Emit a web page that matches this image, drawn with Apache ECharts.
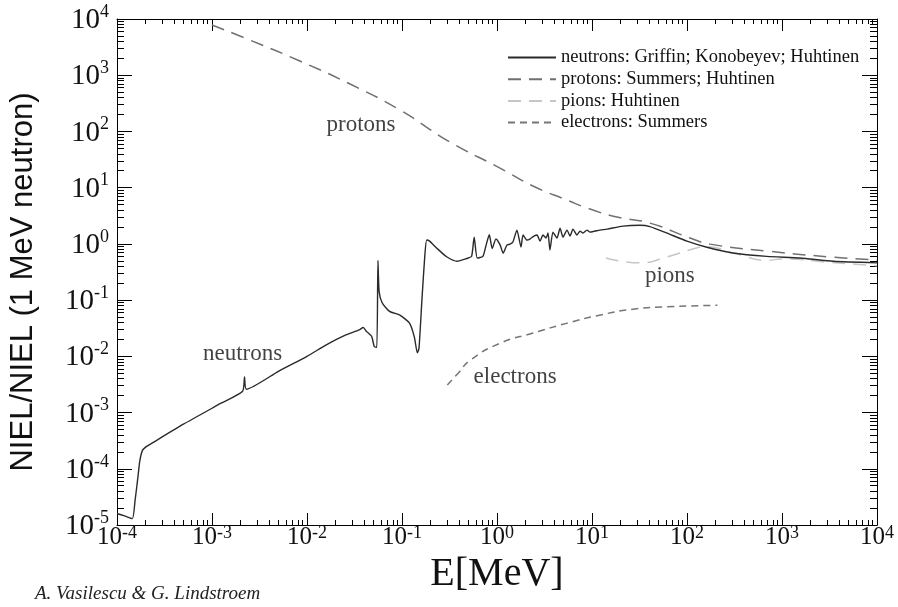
<!DOCTYPE html>
<html>
<head>
<meta charset="utf-8">
<script src="https://cdn.jsdelivr.net/npm/echarts@6/dist/echarts.min.js"></script>
<style>
  html, body { margin: 0; padding: 0; background: #ffffff; }
  #chart { width: 898px; height: 607px; }
</style>
</head>
<body>
<div id="chart"></div>
<script>
// Decade exponents used for the major tick labels (10^n)
const xTickExponents = [-4, -3, -2, -1, 0, 1, 2, 3, 4];
const yTickExponents = [-5, -4, -3, -2, -1, 0, 1, 2, 3, 4];

// Neutrons: Griffin; Konobeyev; Huhtinen  (E in MeV, NIEL relative to 1 MeV neutron)
const neutronE = [
  1.0e-4, 1.2e-4, 1.45e-4, 1.55e-4, 1.66e-4, 1.74e-4, 1.86e-4, 2.05e-4, 2.25e-4,
  5.0e-4, 1.26e-3, 2.1e-3, 2.2e-3, 2.3e-3, 5.0e-3, 1.0e-2, 1.58e-2, 2.5e-2,
  3.55e-2, 3.9e-2, 4.25e-2, 4.8e-2, 5.1e-2, 5.43e-2, 5.58e-2, 5.75e-2, 6.2e-2,
  7.4e-2, 9.5e-2, 0.12, 0.135, 0.145, 0.151, 0.162, 0.174, 0.182, 0.195, 0.234,
  0.295, 0.38, 0.48, 0.54, 0.575, 0.62, 0.71, 0.76, 0.83, 0.89, 0.975, 1.08,
  1.16, 1.27, 1.37, 1.47, 1.62, 1.79, 1.88, 2.07, 2.22, 2.45, 2.64, 2.84, 3.05,
  3.28, 3.44, 3.61, 3.88, 4.28, 4.61, 4.95, 5.46, 5.87, 6.31, 6.95, 7.48, 8.04,
  8.86, 9.53, 12.1, 14.4, 21.2, 32.0, 40.7, 61.7, 100, 162, 302, 692, 1550, 3470, 10000
];
const neutronNiel = [
  1.6e-5, 1.45e-5, 1.3e-5, 2.75e-5, 7.1e-5, 1.4e-4, 2.15e-4, 2.5e-4, 2.75e-4,
  6.2e-4, 1.48e-3, 2.4e-3, 4.3e-3, 2.6e-3, 5.4e-3, 1.0e-2, 1.58e-2, 2.35e-2,
  2.95e-2, 3.25e-2, 2.75e-2, 2.25e-2, 1.5e-2, 1.45e-2, 0.51, 0.14, 0.089,
  0.063, 0.054, 0.039, 0.022, 0.0115, 0.014, 0.10, 0.63, 1.17, 1.12, 0.83,
  0.59, 0.49, 0.55, 0.60, 1.32, 0.56, 0.60, 0.89, 1.45, 0.83, 1.22, 0.95,
  0.685, 0.95, 0.99, 1.08, 1.76, 0.88, 1.44, 1.17, 1.22, 1.38, 1.44, 1.12, 1.44,
  1.27, 1.56, 0.78, 1.62, 1.27, 1.91, 1.32, 1.76, 1.38, 1.83, 1.44, 1.69, 1.56,
  1.76, 1.62, 1.76, 1.83, 2.07, 2.14, 2.03, 1.55, 1.12, 0.87, 0.69, 0.60, 0.56, 0.49, 0.46
];

// Protons: Summers; Huhtinen
const protonE = [1.0e-3, 2.5e-3, 8.4e-3, 0.0284, 0.0953, 0.32, 1.076, 2.39, 5.46, 9.53, 18.3, 40.8, 108, 175, 695, 3440, 10000];
const protonNiel = [7800, 4230, 1790, 697, 240, 64.8, 22.3, 10.7, 6.0, 4.16, 3.0, 2.34, 1.27, 0.99, 0.745, 0.58, 0.515];

// Pions: Huhtinen
const pionE = [14, 32, 62, 115, 160, 316, 690, 1000, 3160, 10000];
const pionNiel = [0.56, 0.46, 0.59, 0.81, 0.89, 0.68, 0.51, 0.54, 0.47, 0.41];

// Electrons: Summers
const electronE = [0.30, 0.39, 0.52, 1.07, 2.4, 5.5, 12, 27, 62, 209];
const electronNiel = [3.1e-3, 5.0e-3, 8.5e-3, 0.017, 0.026, 0.039, 0.054, 0.069, 0.076, 0.081];

// In-plot curve captions: [E, NIEL, text]
const curveCaptions = [
  [0.037, 129, 'protons'],
  [2.1e-3, 0.011, 'neutrons'],
  [1.55, 4.3e-3, 'electrons'],
  [66, 0.27, 'pions']
];

const seriesNames = [
  'neutrons: Griffin; Konobeyev; Huhtinen',
  'protons: Summers; Huhtinen',
  'pions: Huhtinen',
  'electrons: Summers'
];

const SERIF = 'Liberation Serif';
const SANS = 'Liberation Sans';

const pairs = (xs, ys) => xs.map((x, i) => [x, ys[i]]);
const decades = exps => exps.map(e => Math.pow(10, e));
function minorValues(exps) {
  const out = [];
  for (let i = 0; i < exps.length - 1; i++) {
    for (let k = 2; k <= 9; k++) out.push(k * Math.pow(10, exps[i]));
  }
  return out;
}
function powLabel(v) {
  const e = Math.round(Math.log10(v));
  return '{b|10}{s|' + e + '}';
}
const xLabelRich = {
  b: { fontFamily: SERIF, fontSize: 25, color: '#111', lineHeight: 26, verticalAlign: 'bottom' },
  s: { fontFamily: SERIF, fontSize: 18, color: '#111', lineHeight: 18, verticalAlign: 'top' }
};
const yLabelRich = {
  b: { fontFamily: SERIF, fontSize: 29, color: '#111', lineHeight: 32, verticalAlign: 'bottom' },
  s: { fontFamily: SERIF, fontSize: 18, color: '#111', lineHeight: 18, verticalAlign: 'top' }
};

const xMajor = decades(xTickExponents);
const yMajor = decades(yTickExponents);
const xMinor = minorValues(xTickExponents);
const yMinor = minorValues(yTickExponents);
const xRange = { min: xMajor[0], max: xMajor[xMajor.length - 1] };
const yRange = { min: yMajor[0], max: yMajor[yMajor.length - 1] };

function xAxisDef(position, ticks, len, withLine, withLabels) {
  return {
    type: 'log', logBase: 10, position: position, min: xRange.min, max: xRange.max,
    axisLine: { show: withLine, onZero: false, lineStyle: { color: '#000', width: 1 } },
    axisTick: { show: true, inside: true, length: len, customValues: ticks, lineStyle: { color: '#000', width: 1 } },
    axisLabel: withLabels ? { show: true, customValues: xMajor, formatter: powLabel, rich: xLabelRich, margin: -1 } : { show: false },
    splitLine: { show: false },
    minorTick: { show: false }
  };
}
function yAxisDef(position, ticks, len, withLine, withLabels) {
  return {
    type: 'log', logBase: 10, position: position, min: yRange.min, max: yRange.max,
    axisLine: { show: withLine, onZero: false, lineStyle: { color: '#000', width: 1 } },
    axisTick: { show: true, inside: true, length: len, customValues: ticks, lineStyle: { color: '#000', width: 1 } },
    axisLabel: withLabels ? { show: true, customValues: yMajor, formatter: powLabel, rich: yLabelRich, margin: 8 } : { show: false },
    splitLine: { show: false },
    minorTick: { show: false }
  };
}

const xAxes = [
  Object.assign(xAxisDef('bottom', xMajor, 12, true, true), {
    name: 'E[MeV]', nameLocation: 'middle', nameGap: 17,
    nameTextStyle: { fontFamily: SERIF, fontSize: 40, color: '#111' }
  }),
  xAxisDef('bottom', xMinor, 5, false, false),
  xAxisDef('top', xMajor, 12, true, false),
  xAxisDef('top', xMinor, 5, false, false)
];
const yAxes = [
  Object.assign(yAxisDef('left', yMajor, 15, true, true), {
    name: 'NIEL/NIEL (1 MeV neutron)', nameLocation: 'middle', nameGap: 78, nameRotate: 90,
    nameTextStyle: { fontFamily: SANS, fontSize: 31, color: '#111', padding: [0, 20, 0, 0] }
  }),
  yAxisDef('left', yMinor, 7, false, false),
  yAxisDef('right', yMajor, 15, true, false),
  yAxisDef('right', yMinor, 7, false, false)
];

const lineBase = { type: 'line', xAxisIndex: 0, yAxisIndex: 0, symbol: 'none', showSymbol: false, clip: true };

const option = {
  animation: false,
  backgroundColor: '#ffffff',
  title: {
    text: 'A. Vasilescu & G. Lindstroem',
    left: 30, top: 579,
    textStyle: { fontFamily: SERIF, fontStyle: 'italic', fontWeight: 'normal', fontSize: 19, color: '#222' }
  },
  grid: { left: 117, right: 21, top: 19, bottom: 82, containLabel: false },
  legend: {
    data: seriesNames,
    orient: 'vertical',
    left: 502, top: 43,
    itemWidth: 48, itemHeight: 16, itemGap: 2.7,
    itemStyle: { opacity: 0 },
    textStyle: { fontFamily: SERIF, fontSize: 18.5, color: '#111', lineHeight: 16 }
  },
  xAxis: xAxes,
  yAxis: yAxes,
  series: [
    Object.assign({}, lineBase, {
      name: seriesNames[0], data: pairs(neutronE, neutronNiel), z: 5, smooth: 0.2,
      itemStyle: { color: '#2a2a2a' },
      lineStyle: { color: '#2a2a2a', width: 1.4, type: 'solid' }
    }),
    Object.assign({}, lineBase, {
      name: seriesNames[1], data: pairs(protonE, protonNiel), z: 4, smooth: 0.5,
      itemStyle: { color: '#707070' },
      lineStyle: { color: '#707070', width: 1.5, type: [13, 8] }
    }),
    Object.assign({}, lineBase, {
      name: seriesNames[2], data: pairs(pionE, pionNiel), z: 3, smooth: 0.5,
      itemStyle: { color: '#c6c6c6' },
      lineStyle: { color: '#c6c6c6', width: 1.5, type: [13, 8] }
    }),
    Object.assign({}, lineBase, {
      name: seriesNames[3], data: pairs(electronE, electronNiel), z: 4, smooth: 0.5,
      itemStyle: { color: '#767676' },
      lineStyle: { color: '#767676', width: 1.5, type: [7, 5] }
    }),
    {
      type: 'scatter', name: 'captions', xAxisIndex: 0, yAxisIndex: 0,
      symbolSize: 1, itemStyle: { color: 'rgba(0,0,0,0)' },
      data: curveCaptions.map(c => ({ value: [c[0], c[1]], name: c[2] })),
      label: {
        show: true, position: 'inside', formatter: p => p.name,
        fontFamily: SERIF, fontSize: 23, color: '#111'
      },
      silent: true, z: 6
    }
  ]
};

const chart = echarts.init(document.getElementById('chart'), null, { renderer: 'canvas' });
chart.setOption(option);
</script>
</body>
</html>
